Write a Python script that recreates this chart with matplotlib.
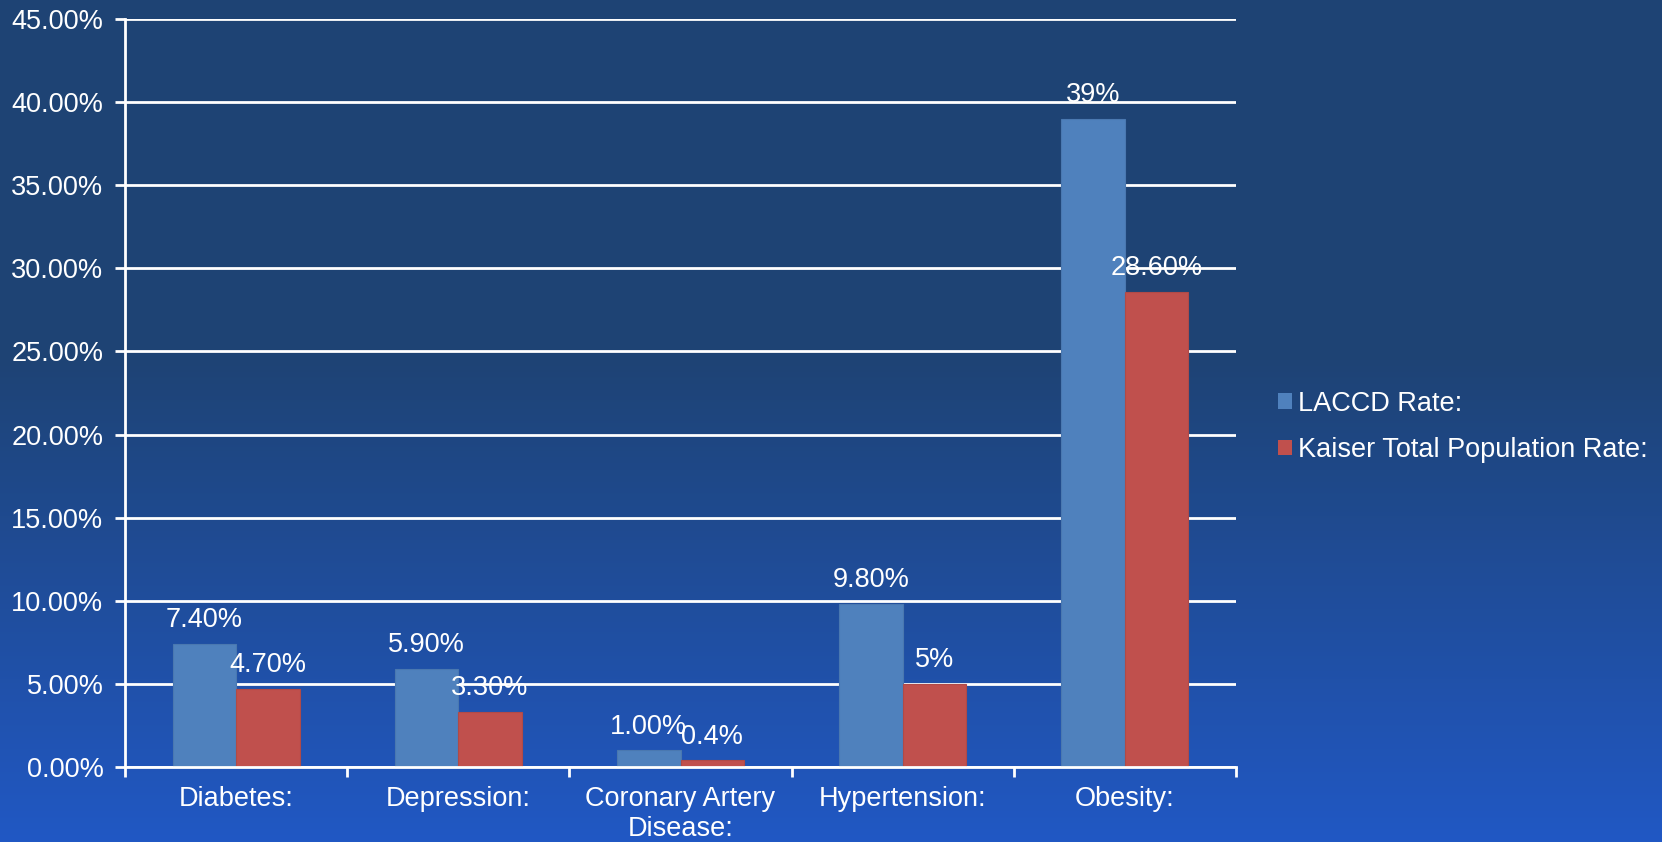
import numpy as np
import matplotlib
matplotlib.use("Agg")
import matplotlib.pyplot as plt
from matplotlib.patches import Patch
from matplotlib.colors import to_rgb

plt.rcParams['font.family'] = ['Liberation Sans', 'DejaVu Sans']

categories = ["Diabetes:", "Depression:", "Coronary Artery\nDisease:", "Hypertension:", "Obesity:"]
laccd = [7.4, 5.9, 1.0, 9.8, 39.0]
kaiser = [4.7, 3.3, 0.4, 5.0, 28.6]
laccd_labels = ["7.40%", "5.90%", "1.00%", "9.80%", "39%"]
kaiser_labels = ["4.70%", "3.30%", "0.4%", "5%", "28.60%"]
series_names = ["LACCD Rate:", "Kaiser Total Population Rate:"]
yticks = [0, 5, 10, 15, 20, 25, 30, 35, 40, 45]

FS = 19.5
W, H = 1662, 842
fig = plt.figure(figsize=(W / 100, H / 100), dpi=100)

# background gradient
bg = fig.add_axes([0, 0, 1, 1], zorder=-10)
top = np.array(to_rgb("#1E4374"))
bot = np.array(to_rgb("#2158C4"))
ys = np.linspace(0, 1, H)
t = np.clip((ys - 0.42) / 0.58, 0, 1)
grad = top[None, :] * (1 - t[:, None]) + bot[None, :] * t[:, None]
img = np.repeat(grad[:, None, :], 10, axis=1)
bg.imshow(img, aspect='auto', extent=[0, 1, 0, 1], origin='upper')
bg.set_axis_off()

ax = fig.add_axes([125 / W, 1 - 767 / H, (1236 - 125) / W, (767 - 19) / H])
ax.set_facecolor('none')

x = np.arange(len(categories))
bw = 0.286
blue = "#4F81BD"
red = "#C0504D"
ax.bar(x - bw / 2, laccd, bw, color=blue, edgecolor="#4A78B0", linewidth=0.8, zorder=3)
ax.bar(x + bw / 2, kaiser, bw, color=red, edgecolor="#B04A47", linewidth=0.8, zorder=3)

for xi, v, lab in zip(x - bw / 2, laccd, laccd_labels):
    ax.annotate(lab, (xi, v), xytext=(0, 12), textcoords='offset points',
                ha='center', va='baseline', color='white', fontsize=FS, zorder=5)
for xi, v, lab in zip(x + bw / 2, kaiser, kaiser_labels):
    ax.annotate(lab, (xi, v), xytext=(0, 12), textcoords='offset points',
                ha='center', va='baseline', color='white', fontsize=FS, zorder=5)

ax.set_xlim(-0.5, len(categories) - 0.5)
ax.set_ylim(0, 45)
ax.set_yticks(yticks)
ax.set_yticklabels([f"{v:.2f}%" for v in yticks])
ax.yaxis.grid(True, color='white', linewidth=2, zorder=0)
ax.set_axisbelow(True)

ax.set_xticks(x)
ax.set_xticklabels(categories, linespacing=1.2)
ax.set_xticks(np.arange(-0.5, len(categories)), minor=True)
ax.tick_params(axis='x', which='major', length=0, pad=13.5, labelsize=FS, colors='white')
ax.tick_params(axis='x', which='minor', length=7, width=2, color='white', direction='out')
ax.tick_params(axis='y', length=7, width=2, color='white', pad=8.5, labelsize=FS, labelcolor='white')

for s in ['top', 'right']:
    ax.spines[s].set_visible(False)
for s in ['left', 'bottom']:
    ax.spines[s].set_color('white')
    ax.spines[s].set_linewidth(2)
    ax.spines[s].set_zorder(4)

handles = [Patch(facecolor=blue, edgecolor='none'), Patch(facecolor=red, edgecolor='none')]
fig.legend(handles, series_names, loc='center left', bbox_to_anchor=(1278 / W, 1 - 427 / H),
           frameon=False, fontsize=FS, labelcolor='white', handlelength=0.52, handleheight=0.52,
           handletextpad=0.22, labelspacing=0.74, borderpad=0, borderaxespad=0)

fig.savefig("out.png", dpi=100)
